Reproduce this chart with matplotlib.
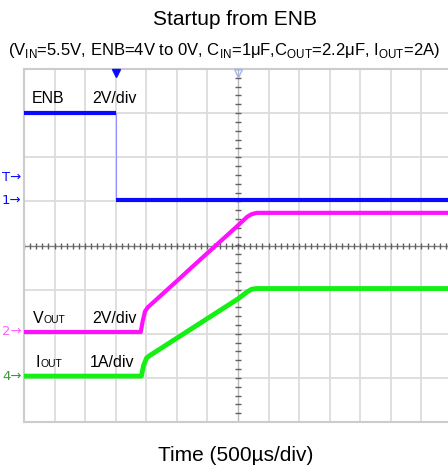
import numpy as np
import matplotlib.pyplot as plt

plt.rcParams['font.family'] = ['Liberation Sans', 'DejaVu Sans']
plt.rcParams['mathtext.fontset'] = 'custom'
plt.rcParams['mathtext.rm'] = 'Liberation Sans'

# scope screen in divisions, x = 500us/div, 0 = screen centre
enb_t = [-7.0, -4.0, -4.0, 7.0]
enb_div = [3.01, 3.01, 1.03, 1.03]

vout_t = [-7.0, -3.18, -3.12, -3.04, -2.95, -1.96, -1.57, -0.04, 0.30, 0.45, 0.61, 7.0]
vout_div = [-1.96, -1.96, -1.72, -1.49, -1.40, -0.78, -0.53, 0.43, 0.65, 0.71, 0.74, 0.74]

iout_t = [-7.0, -3.16, -3.09, -2.99, -2.9, 0.0, 0.30, 0.45, 0.6, 7.0]
iout_div = [-2.96, -2.96, -2.72, -2.55, -2.50, -1.21, -1.05, -0.99, -0.975, -0.975]

trig_t = -4.0
trig_lvl = 1.54

blue = '#0a0aff'
magenta = '#ff10ff'
green = '#14f014'

fig = plt.figure(figsize=(4.48, 4.72), dpi=100)
# graticule: 14 x 8 div, right edge runs off the picture
ax = fig.add_axes([24 / 448, 50 / 472, 428 / 448, 353 / 472])
ax.set_xlim(-7, 7)
ax.set_ylim(-4, 4)

for x in np.arange(-6, 7):
    if x != 0:
        ax.axvline(x, color='#dcdcdc', lw=1.3, zorder=0)
for y in np.arange(-3, 4):
    if y != 0:
        ax.axhline(y, color='#dcdcdc', lw=1.3, zorder=0)
ax.axhline(0, color='#808080', lw=1.0, zorder=0.5)
ax.axvline(0, color='#b8b8b8', lw=1.0, zorder=0.5)
xt = np.arange(-7, 7.01, 0.2)
yt = np.arange(-4, 4.01, 0.2)
ax.plot(xt, np.zeros_like(xt), ls='', marker='|', ms=5, mew=1.0, color='#606060', zorder=0.6)
ax.plot(np.zeros_like(yt), yt, ls='', marker='_', ms=5, mew=1.0, color='#606060', zorder=0.6)

for s in ax.spines.values():
    s.set_color('#cccccc')
    s.set_linewidth(1.5)
ax.set_xticks([])
ax.set_yticks([])

# traces
ax.plot(enb_t[:2], enb_div[:2], color=blue, lw=3.0, solid_capstyle='butt', zorder=3)
ax.plot(enb_t[1:3], enb_div[1:3], color='#9090ff', lw=0.8, zorder=2)
ax.plot(enb_t[2:], enb_div[2:], color=blue, lw=3.0, solid_capstyle='butt', zorder=3)
ax.plot(vout_t, vout_div, color=magenta, lw=3.0, solid_capstyle='butt', zorder=3)
ax.plot(iout_t, iout_div, color=green, lw=3.5, solid_capstyle='butt', zorder=3)

# trigger / centre markers on top edge
ax.plot([trig_t], [3.9], marker='v', ms=6, color=blue, clip_on=False, zorder=4)
ax.plot([0], [3.92], marker='v', ms=6, mfc='none', mec='#9db4ff', mew=1.0,
        clip_on=False, zorder=4)

# channel labels
lab = dict(fontsize=11.5, color='black', va='baseline', ha='left')
sml = dict(fontsize=7.5, color='black', va='baseline', ha='left')
ax.text(-6.74, 3.236, 'ENB', **lab)
ax.text(-4.78, 3.236, '2V/div', **lab)
ax.text(-6.71, -1.746, 'V', **lab)
ax.text(-6.36, -1.746, 'OUT', **sml)
ax.text(-4.78, -1.746, '2V/div', **lab)
ax.text(-6.62, -2.76, 'I', **lab)
ax.text(-6.46, -2.76, 'OUT', **sml)
ax.text(-4.84, -2.76, '1A/div', **lab)

# left side channel markers
mk = dict(fontsize=9.5, ha='right', va='center', clip_on=False,
          family=['DejaVu Sans'])
ax.text(-7.08, trig_lvl, 'T\u2192', color=blue, **mk)
ax.text(-7.08, enb_div[-1], '1\u2192', color=blue, **mk)
ax.text(-7.08, vout_div[0], '2\u2192', color='#ff60ff', **mk)
ax.text(-7.08, iout_div[0], '4\u2192', color='#3a9a3a', **mk)

fig.text(0.525, 0.958, 'Startup from ENB', ha='center', va='center', fontsize=15)
fig.text(0.5, 0.894,
         r'(V$_{\mathregular{IN}}$=5.5V, ENB=4V to 0V, C$_{\mathregular{IN}}$=1$\mathregular{\mu}$F,'
         r'C$_{\mathregular{OUT}}$=2.2$\mathregular{\mu}$F, I$_{\mathregular{OUT}}$=2A)',
         ha='center', va='center', fontsize=12)
fig.text(0.525, 0.036, 'Time (500\u00b5s/div)', ha='center', va='center', fontsize=15)

fig.savefig('out.png', dpi=100)
